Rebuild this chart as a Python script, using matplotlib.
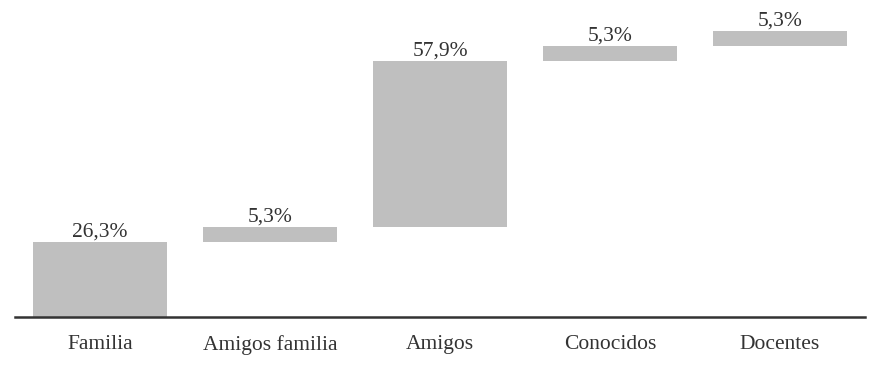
import matplotlib
matplotlib.use("Agg")
import matplotlib.pyplot as plt
import numpy as np

categories = ["Familia", "Amigos familia", "Amigos", "Conocidos", "Docentes"]
values = [26.3, 5.3, 57.9, 5.3, 5.3]
value_labels = ["26,3%", "5,3%", "57,9%", "5,3%", "5,3%"]

plt.rcParams['font.family'] = ['Liberation Serif', 'DejaVu Serif']

# waterfall: each bar starts where the previous one ended
bottoms = np.concatenate([[0], np.cumsum(values)[:-1]])
tops = bottoms + np.array(values)

fig = plt.figure(figsize=(8.8, 3.8), dpi=100)
ax = fig.add_axes([15 / 880, 1 - 317 / 380, 850 / 880, 300 / 380])

x = np.arange(len(categories))
ax.bar(x, values, bottom=bottoms, width=0.79, color="#bfbfbf", zorder=2)

for xi, top, lab in zip(x, tops, value_labels):
    ax.text(xi, top + 0.2, lab, ha="center", va="bottom",
            fontsize=15.5, color="#333333")

ax.set_xlim(-0.5, 4.5)
ax.set_ylim(0, 105)
ax.set_xticks(x)
ax.set_xticklabels(categories, fontsize=15.5, color="#333333")
ax.tick_params(axis="x", length=0, pad=13)
ax.set_yticks([])
for side in ["top", "right", "left"]:
    ax.spines[side].set_visible(False)
ax.spines["bottom"].set_linewidth(1.8)
ax.spines["bottom"].set_color("#333333")

fig.savefig("out.png", dpi=100)
